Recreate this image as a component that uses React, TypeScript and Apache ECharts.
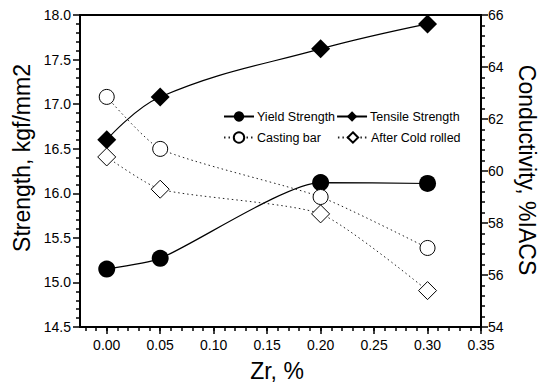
import React, { useEffect, useRef } from "react";
import * as echarts from "echarts";

const zrValues = [0, 0.05, 0.2, 0.3];
const yieldStrength = [15.15, 15.27, 16.12, 16.11];
const tensileStrength = [16.6, 17.08, 17.62, 17.9];
const castingBar = [62.85, 60.85, 59.0, 57.04];
const afterColdRolled = [60.54, 59.3, 58.35, 55.4];
const xMajorTicks = [0, 0.05, 0.1, 0.15, 0.2, 0.25, 0.3, 0.35];

const FONT = "'Liberation Sans', Arial, sans-serif";

const pairs = (ys: number[]) => zrValues.map((x, i) => [x, ys[i]]);

export default function App() {
  const ref = useRef<HTMLDivElement>(null);
  useEffect(() => {
    if (!ref.current) return;
    const chart = echarts.init(ref.current, undefined, { renderer: "svg" });
    const X_MIN = -0.025;
    const X_MAX = 0.35;
    const left = 80;
    const right = 72;
    const plotW = 553 - left - right;
    const pxPerUnit = plotW / (X_MAX - X_MIN);
    const MINOR_MIN = -0.02;
    const gridPos = { left, right, top: 15, bottom: 57 };
    const minorGridPos = { left: left + (MINOR_MIN - X_MIN) * pxPerUnit, right, top: 15, bottom: 57 };
    const tickStyle = { color: "#000", width: 1.5 };
    const minorStyle = { color: "#000", width: 1.5 };
    const option: any = {
      animation: false,
      backgroundColor: "#fff",
      textStyle: { fontFamily: FONT },
      grid: [
        { ...gridPos, show: true, borderColor: "#000", borderWidth: 2, backgroundColor: "transparent" },
        { ...minorGridPos, show: false },
      ],
      legend: [
        {
          data: ["Yield Strength", "Tensile Strength"],
          left: 218,
          top: 105,
          itemWidth: 30,
          itemHeight: 13,
          itemGap: 1,
          textStyle: { fontSize: 12.5, color: "#000", fontFamily: FONT, padding: [0, 0, 0, -2] },
        },
        {
          data: ["Casting bar", "After Cold rolled"],
          left: 218,
          top: 126,
          itemWidth: 30,
          itemHeight: 13,
          itemGap: 16,
          textStyle: { fontSize: 12.5, color: "#000", fontFamily: FONT, padding: [0, 0, 0, -2] },
        },
      ],
      xAxis: [
        {
          type: "value",
          gridIndex: 0,
          min: X_MIN,
          max: X_MAX,
          position: "bottom",
          axisLine: { show: true, onZero: false, lineStyle: { color: "#000", width: 2 } },
          axisTick: { show: true, customValues: xMajorTicks, length: 7, lineStyle: tickStyle },
          axisLabel: {
            customValues: xMajorTicks,
            formatter: (v: number) => v.toFixed(2),
            color: "#000",
            fontSize: 14,
            fontFamily: FONT,
            margin: 11,
          },
          splitLine: { show: false },
        },
        {
          type: "value",
          gridIndex: 1,
          min: MINOR_MIN,
          max: X_MAX,
          interval: 0.01,
          position: "bottom",
          axisLine: { show: true, onZero: false, lineStyle: { color: "#000", width: 2 } },
          axisTick: { show: true, length: 4, lineStyle: minorStyle },
          axisLabel: { show: false },
          splitLine: { show: false },
        },
      ],
      yAxis: [
        {
          type: "value",
          gridIndex: 0,
          min: 14.5,
          max: 18,
          interval: 0.5,
          position: "left",
          axisLine: { show: true, onZero: false, lineStyle: { color: "#000", width: 2 } },
          axisTick: { show: true, length: 7, lineStyle: tickStyle },
          minorTick: { show: true, splitNumber: 5, length: 4, lineStyle: minorStyle },
          axisLabel: { formatter: (v: number) => v.toFixed(1), color: "#000", fontSize: 14, fontFamily: FONT, margin: 9 },
          splitLine: { show: false },
        },
        {
          type: "value",
          gridIndex: 0,
          min: 54,
          max: 66,
          interval: 2,
          position: "right",
          axisLine: { show: true, onZero: false, lineStyle: { color: "#000", width: 2 } },
          axisTick: { show: true, length: 7, lineStyle: tickStyle },
          minorTick: { show: true, splitNumber: 5, length: 4, lineStyle: minorStyle },
          axisLabel: { color: "#000", fontSize: 14, fontFamily: FONT, margin: 7 },
          splitLine: { show: false },
        },
        {
          type: "value",
          gridIndex: 1,
          min: 0,
          max: 1,
          axisLine: { show: false },
          axisTick: { show: false },
          axisLabel: { show: false },
          splitLine: { show: false },
        },
      ],
      series: [
        {
          name: "Yield Strength",
          type: "line",
          xAxisIndex: 0,
          yAxisIndex: 0,
          data: pairs(yieldStrength),
          smooth: 0.2,
          symbol: "circle",
          symbolSize: 17,
          itemStyle: { color: "#000" },
          lineStyle: { color: "#000", width: 1.2 },
          z: 3,
        },
        {
          name: "Tensile Strength",
          type: "line",
          xAxisIndex: 0,
          yAxisIndex: 0,
          data: pairs(tensileStrength),
          smooth: 0.4,
          symbol: "diamond",
          symbolSize: 19,
          itemStyle: { color: "#000" },
          lineStyle: { color: "#000", width: 1.2 },
          z: 3,
        },
        {
          name: "Casting bar",
          type: "line",
          xAxisIndex: 0,
          yAxisIndex: 1,
          data: pairs(castingBar),
          smooth: 0.2,
          symbol: "circle",
          symbolSize: 15,
          itemStyle: { color: "#fff", borderColor: "#000", borderWidth: 1 },
          lineStyle: { color: "#222", width: 1, type: [1.5, 3] },
          z: 4,
        },
        {
          name: "After Cold rolled",
          type: "line",
          xAxisIndex: 0,
          yAxisIndex: 1,
          data: pairs(afterColdRolled),
          smooth: 0.2,
          symbol: "diamond",
          symbolSize: 18,
          itemStyle: { color: "#fff", borderColor: "#000", borderWidth: 1 },
          lineStyle: { color: "#222", width: 1, type: [1.5, 3] },
          z: 4,
        },
      ],
      graphic: [
        {
          type: "text",
          x: 22,
          y: 158,
          rotation: Math.PI / 2,
          style: { text: "Strength, kgf/mm2", fontSize: 23, fontFamily: FONT, fill: "#000", align: "center", verticalAlign: "middle" },
        },
        {
          type: "text",
          x: 527,
          y: 170,
          rotation: -Math.PI / 2,
          style: { text: "Conductivity, %IACS", fontSize: 23, fontFamily: FONT, fill: "#000", align: "center", verticalAlign: "middle" },
        },
        {
          type: "text",
          x: 277,
          y: 371,
          style: { text: "Zr, %", fontSize: 23, fontFamily: FONT, fill: "#000", align: "center", verticalAlign: "middle" },
        },
      ],
    };
    chart.setOption(option);
    return () => chart.dispose();
  }, []);
  return <div ref={ref} style={{ position: "fixed", left: 0, top: 0, width: 553, height: 384 }} />;
}
